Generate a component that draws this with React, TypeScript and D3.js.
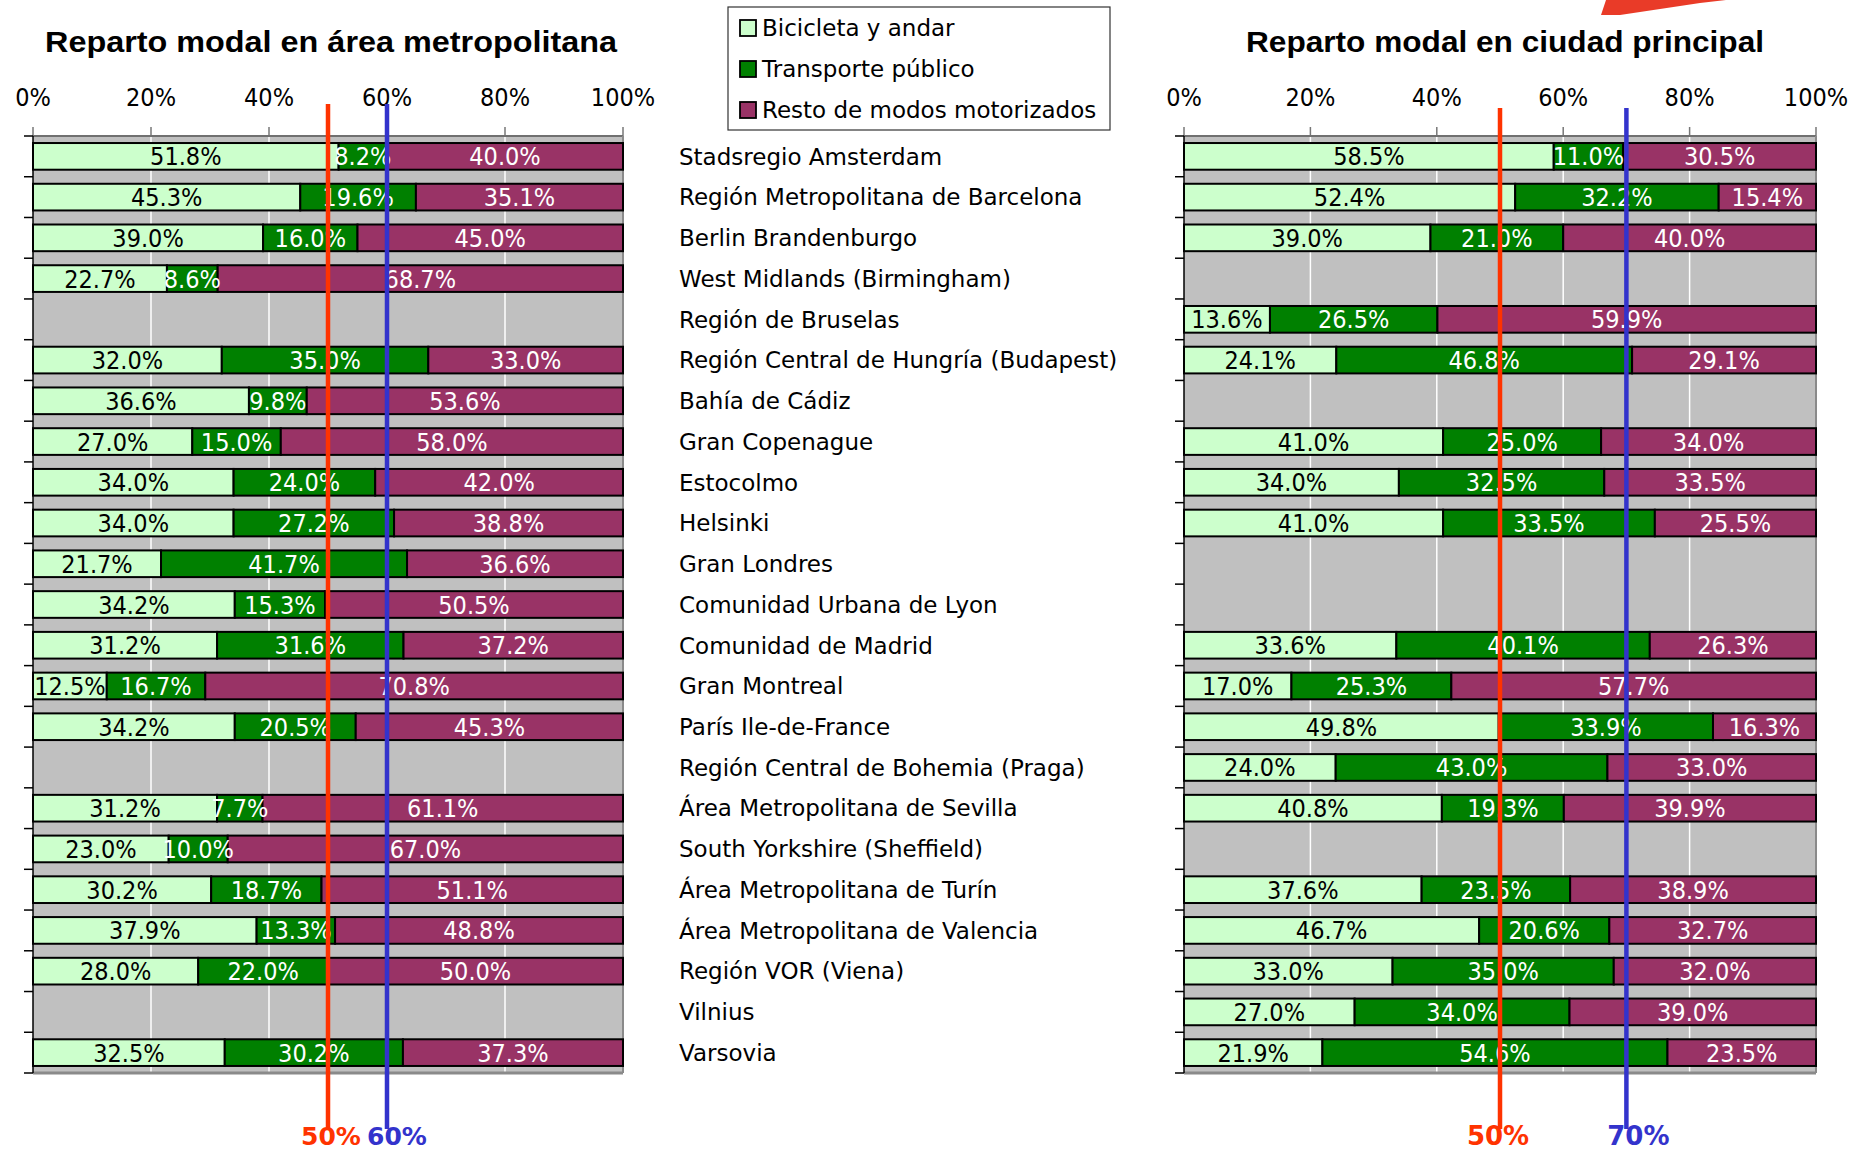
import React from 'react';
import * as d3 from 'd3';

const categories = [
  'Stadsregio Amsterdam',
  'Región Metropolitana de Barcelona',
  'Berlin Brandenburgo',
  'West Midlands (Birmingham)',
  'Región de Bruselas',
  'Región Central de Hungría (Budapest)',
  'Bahía de Cádiz',
  'Gran Copenague',
  'Estocolmo',
  'Helsinki',
  'Gran Londres',
  'Comunidad Urbana de Lyon',
  'Comunidad de Madrid',
  'Gran Montreal',
  'París Ile-de-France',
  'Región Central de Bohemia (Praga)',
  'Área Metropolitana de Sevilla',
  'South Yorkshire (Sheffield)',
  'Área Metropolitana de Turín',
  'Área Metropolitana de Valencia',
  'Región VOR (Viena)',
  'Vilnius',
  'Varsovia',
];

// área metropolitana (null = sin dato)
const metroBike = [51.8, 45.3, 39.0, 22.7, null, 32.0, 36.6, 27.0, 34.0, 34.0, 21.7, 34.2, 31.2, 12.5, 34.2, null, 31.2, 23.0, 30.2, 37.9, 28.0, null, 32.5];
const metroTransit = [8.2, 19.6, 16.0, 8.6, null, 35.0, 9.8, 15.0, 24.0, 27.2, 41.7, 15.3, 31.6, 16.7, 20.5, null, 7.7, 10.0, 18.7, 13.3, 22.0, null, 30.2];
const metroMotor = [40.0, 35.1, 45.0, 68.7, null, 33.0, 53.6, 58.0, 42.0, 38.8, 36.6, 50.5, 37.2, 70.8, 45.3, null, 61.1, 67.0, 51.1, 48.8, 50.0, null, 37.3];

// ciudad principal
const cityBike = [58.5, 52.4, 39.0, null, 13.6, 24.1, null, 41.0, 34.0, 41.0, null, null, 33.6, 17.0, 49.8, 24.0, 40.8, null, 37.6, 46.7, 33.0, 27.0, 21.9];
const cityTransit = [11.0, 32.2, 21.0, null, 26.5, 46.8, null, 25.0, 32.5, 33.5, null, null, 40.1, 25.3, 33.9, 43.0, 19.3, null, 23.5, 20.6, 35.0, 34.0, 54.6];
const cityMotor = [30.5, 15.4, 40.0, null, 59.9, 29.1, null, 34.0, 33.5, 25.5, null, null, 26.3, 57.7, 16.3, 33.0, 39.9, null, 38.9, 32.7, 32.0, 39.0, 23.5];

const xTicks = [0, 20, 40, 60, 80, 100];
const legendLabels = ['Bicicleta y andar', 'Transporte público', 'Resto de modos motorizados'];
const keys = ['bike', 'transit', 'motor'];
const fills = ['#ccffcc', '#008000', '#993366'];
const textFills = ['#000', '#fff', '#fff'];

const condensed = '"DejaVu Sans Condensed", "Liberation Sans Narrow", "DejaVu Sans", sans-serif';
const plain = '"DejaVu Sans", Verdana, sans-serif';

const TOP = 136;
const BOTTOM = 1073;

function Panel({ left, right, title, titleCx, titleW, bike, transit, motor, refs, refY, labelY, labelSize }) {
  const x = d3.scaleLinear().domain([0, 100]).range([left, right]);
  const y = d3.scaleBand().domain(categories).range([TOP, BOTTOM]).paddingInner(0.345).paddingOuter(0.1725);

  const rows = categories
    .map((c, i) => ({ cat: c, bike: bike[i], transit: transit[i], motor: motor[i] }))
    .filter(r => r.bike != null);
  const stacked = d3.stack().keys(keys)(rows);
  const bounds = d3.range(categories.length + 1).map(i => TOP + i * y.step());

  return (
    <g>
      <text x={titleCx} y={52} textAnchor="middle" fontFamily='"Liberation Sans", Arial, sans-serif' fontWeight="bold"
        fontSize={29} textLength={titleW} lengthAdjust="spacingAndGlyphs">{title}</text>
      {xTicks.map(t => (
        <text key={'tl' + t} x={x(t)} y={106} textAnchor="middle" fontFamily={condensed} fontSize={25}>{t}%</text>
      ))}
      <rect x={left} y={TOP} width={right - left} height={BOTTOM - TOP} fill="#c0c0c0" />
      {xTicks.slice(1, -1).map(t => (
        <line key={'g' + t} x1={x(t)} x2={x(t)} y1={TOP} y2={BOTTOM} stroke="#fff" strokeWidth={1.5} />
      ))}
      {xTicks.map(t => (
        <line key={'tt' + t} x1={x(t)} x2={x(t)} y1={TOP - 9} y2={TOP} stroke="#777" strokeWidth={1.5} />
      ))}
      <line x1={left} x2={right} y1={TOP} y2={TOP} stroke="#707070" strokeWidth={2} />
      <line x1={right} x2={right} y1={TOP} y2={BOTTOM} stroke="#8a8a8a" strokeWidth={2} />
      <line x1={left} x2={right} y1={BOTTOM} y2={BOTTOM} stroke="#8a8a8a" strokeWidth={3} />
      <line x1={left} x2={left} y1={TOP} y2={BOTTOM} stroke="#000" strokeWidth={1.5} />
      {bounds.map((b, i) => (
        <line key={'yt' + i} x1={left - 9} x2={left} y1={b} y2={b} stroke="#000" strokeWidth={1.5} />
      ))}
      {stacked.map((s, k) => (
        <g key={s.key}>
          {s.map(d => (
            <rect key={d.data.cat} x={x(d[0])} y={y(d.data.cat)} width={x(d[1]) - x(d[0])} height={y.bandwidth()}
              fill={fills[k]} stroke="#000" strokeWidth={2} />
          ))}
        </g>
      ))}
      {stacked.map((s, k) => (
        <g key={'l' + s.key}>
          {s.map(d => (
            <text key={d.data.cat} x={(x(d[0]) + x(d[1])) / 2} y={y(d.data.cat) + y.bandwidth() / 2}
              dy="0.36em" textAnchor="middle" fontFamily={condensed} fontSize={25} fill={textFills[k]}>
              {(d[1] - d[0]).toFixed(1)}%
            </text>
          ))}
        </g>
      ))}
      {refs.map(r => (
        <g key={'r' + r.v}>
          <line x1={x(r.v)} x2={x(r.v)} y1={refY} y2={1129} stroke={r.color} strokeWidth={4.5} />
          <text x={x(r.v) + r.dx} y={labelY} textAnchor="middle" fontFamily={plain} fontWeight="bold" fontSize={labelSize} fill={r.color}>{r.v}%</text>
        </g>
      ))}
    </g>
  );
}

export default function App() {
  const yc = d3.scaleBand().domain(categories).range([TOP, BOTTOM]);
  return (
    <svg width={1854} height={1152} style={{ position: 'absolute', left: 0, top: 0, background: '#fff' }}>
      <rect width={1854} height={1152} fill="#fff" />
      <polygon points="1601,15 1620,15 1700,3 1726,0 1606,0" fill="#e8301c" opacity={0.95} />
      <Panel left={33} right={623} title="Reparto modal en área metropolitana" titleCx={331} titleW={572}
        bike={metroBike} transit={metroTransit} motor={metroMotor}
        refs={[{ v: 50, color: '#ff3300', dx: 3 }, { v: 60, color: '#3333cc', dx: 10 }]} refY={104} labelY={1145} labelSize={25} />
      <Panel left={1184} right={1816} title="Reparto modal en ciudad principal" titleCx={1505} titleW={518}
        bike={cityBike} transit={cityTransit} motor={cityMotor}
        refs={[{ v: 50, color: '#ff3300', dx: -2 }, { v: 70, color: '#3333cc', dx: 12 }]} refY={108} labelY={1145} labelSize={26} />
      {categories.map(c => (
        <text key={c} x={679} y={yc(c) + yc.bandwidth() / 2} dy="0.36em" fontFamily={plain} fontSize={23} fill="#000">{c}</text>
      ))}
      <rect x={728} y={7} width={382} height={123} fill="#fff" stroke="#333" strokeWidth={1.2} />
      {legendLabels.map((l, i) => (
        <g key={l}>
          <rect x={740} y={20 + i * 41} width={16} height={16} fill={fills[i]} stroke="#000" strokeWidth={1.8} />
          <text x={762} y={28 + i * 41} dy="0.36em" fontFamily={plain} fontSize={23} fill="#000">{l}</text>
        </g>
      ))}
    </svg>
  );
}
